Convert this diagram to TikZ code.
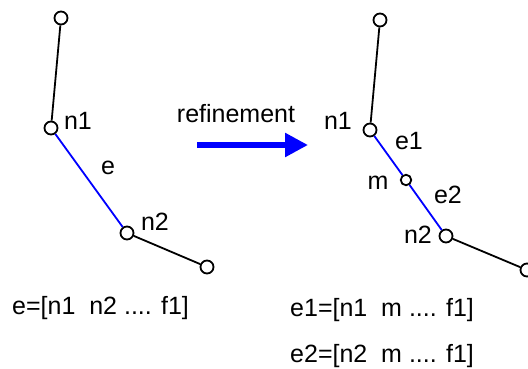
\documentclass[tikz,border=0pt]{standalone}
\usepackage{fontspec}
\setmainfont{Liberation Sans}
\usetikzlibrary{arrows.meta}
\begin{document}
\begin{tikzpicture}[x=1pt,y=-1pt,
  vtx/.style={circle,draw,line width=1.8pt,fill=white,minimum size=13pt,inner sep=0pt},
  svtx/.style={vtx,minimum size=10.5pt},
  lbl/.style={font=\fontsize{25}{28}\selectfont,inner sep=0pt},
  edg/.style={line width=1.8pt},
  bedg/.style={line width=1.8pt,blue}]
\useasboundingbox (0,0) rectangle (528,369);
% left
\node[vtx] (la) at (61,18) {};
\node[vtx] (ln1) at (51,128) {};
\node[vtx] (ln2) at (127,233) {};
\node[vtx] (lb) at (207,267) {};
\draw[edg] (la) -- (ln1);
\draw[bedg] (ln1) -- (ln2);
\draw[edg] (ln2) -- (lb);
\node[lbl] (tln1) at (78,121) {n1};
\node[lbl] (te) at (108,168) {e};
\node[lbl] (tln2) at (155,222) {n2};
\node[lbl,anchor=west] (teq) at (12,308) {e=[n1\ \ n2 .... f1]};
% arrow
\node[lbl] (tref) at (236,114) {refinement};
\coordinate (as) at (197,145);
\coordinate (ae) at (308,145);
\draw[blue,line width=5.5pt,-{Triangle[length=23pt,width=23pt]}] (as) -- (ae);
% right
\node[vtx] (ra) at (380,20) {};
\node[vtx] (rn1) at (370,130) {};
\node[svtx] (rm) at (406,180) {};
\node[vtx] (rn2) at (446,236) {};
\node[vtx] (rb) at (527,270) {};
\draw[edg] (ra) -- (rn1);
\draw[bedg] (rn1) -- (rm);
\draw[bedg] (rm) -- (rn2);
\draw[edg] (rn2) -- (rb);
\node[lbl] (trn1) at (338,121) {n1};
\node[lbl] (te1) at (409,141) {e1};
\node[lbl] (tm) at (378,183) {m};
\node[lbl] (te2) at (448,195) {e2};
\node[lbl] (trn2) at (418,235) {n2};
\node[lbl,anchor=west] (teq1) at (290,310) {e1=[n1\ \ m .... f1]};
\node[lbl,anchor=west] (teq2) at (290,356) {e2=[n2\ \ m .... f1]};
\end{tikzpicture}
\end{document}
